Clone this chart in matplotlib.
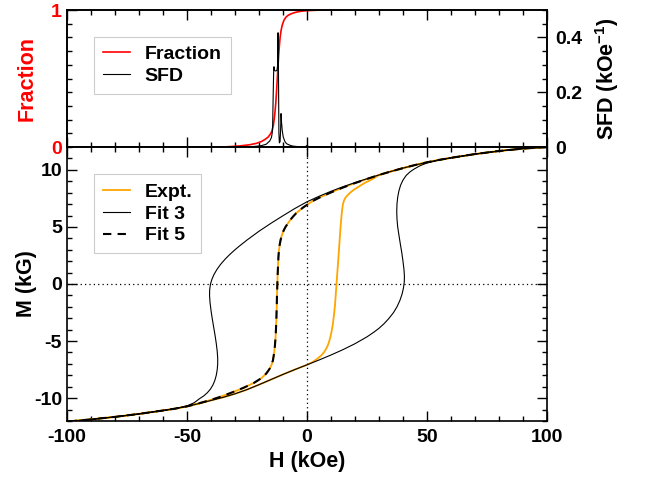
import matplotlib
matplotlib.use("Agg")
import matplotlib.pyplot as plt
from matplotlib.ticker import MultipleLocator, FixedLocator

plt.rcParams['font.family'] = ['Liberation Sans', 'DejaVu Sans']
plt.rcParams['font.weight'] = 'bold'
plt.rcParams['axes.unicode_minus'] = False
plt.rcParams['mathtext.fontset'] = 'custom'
plt.rcParams['mathtext.rm'] = 'Liberation Sans:bold'
plt.rcParams['mathtext.bf'] = 'Liberation Sans:bold'
plt.rcParams['mathtext.default'] = 'bf'

# ---------------- data ----------------
# Top panel: switching fraction and switching field distribution
frac_H = [-35.5, -32, -28, -24, -21, -19, -17.5, -16.2, -15.2, -14.5, -14.0, -13.6,
          -13.3, -13.0, -12.7, -12.4, -12.1, -11.8, -11.5, -11.2, -10.8, -10.3,
          -9.6, -8.8, -7.8, -6.5, -5, -3.5, -2, 0, 2, 5, 9, 13.75]
frac_val = [0.0, 0.003, 0.008, 0.016, 0.027, 0.04, 0.055, 0.072, 0.095, 0.12, 0.16,
            0.21, 0.26, 0.32, 0.4, 0.49, 0.58, 0.67, 0.74, 0.8, 0.85, 0.89,
            0.925, 0.947, 0.962, 0.973, 0.982, 0.988, 0.992, 0.995, 0.997, 0.999,
            1.0, 1.0]

sfd_H = [-100, -30, -22, -19, -17, -15.5, -14.8, -14.5, -14.3, -14.1, -13.9, -13.75,
         -13.6, -13.3, -12.9, -12.5, -12.2, -12.1, -12.0, -11.9, -11.7, -11.5, -11.2,
         -11.0, -10.8, -10.6, -10.3, -9.9, -9.2, -8.5, -7.0, -5.7, -3, -1, -0.3, 0,
         0.3, 1, 3, 100]
sfd_val = [0, 0, 0.002, 0.005, 0.01, 0.022, 0.035, 0.05, 0.08, 0.18, 0.27, 0.293,
           0.28, 0.278, 0.278, 0.28, 0.3, 0.417, 0.417, 0.3, 0.05, 0.015, 0.02,
           0.06, 0.122, 0.09, 0.06, 0.037, 0.02, 0.012, 0.006, 0.003, 0.001, 0.001,
           0.003, 0.006, 0.003, 0.001, 0, 0]

# Bottom panel: hysteresis loops (descending branch then ascending branch)
expt_H = [100, 90, 80, 70, 60, 55, 50, 45, 40, 35, 30, 25, 20, 15, 10, 5, 2.5, 0.5,
          -1.5, -3, -4.5, -5.7, -7, -8, -9, -9.8, -10.5, -11, -11.4, -11.7, -11.9,
          -12.05, -12.2, -12.35, -12.5, -12.6, -12.75, -12.9, -13.1, -13.4, -13.8,
          -14.2, -14.8, -15.5, -16.3, -17, -18, -19, -20.5, -22, -24, -26, -28,
          -30, -32.5, -35, -37.5, -40, -45, -50, -55, -60, -70, -80, -90, -100,
          -90, -80, -70, -60, -55, -50, -45, -40, -35, -30, -25, -20, -15, -10, -5,
          0, 2, 4, 6, 7.2, 8.2, 9, 9.7, 10.3, 10.8, 11.3, 11.7, 12.1, 12.5, 13,
          13.4, 13.75, 14.1, 14.4, 14.7, 15.0, 15.4, 16, 16.8, 18, 19.5, 21,
          22.5, 24, 26, 28, 30, 35, 40, 45, 50, 55, 60, 70, 80, 90, 100]
expt_M = [12.0, 11.86, 11.65, 11.38, 11.05, 10.87, 10.66, 10.42, 10.15, 9.86, 9.55,
          9.2, 8.84, 8.45, 8.02, 7.55, 7.28, 7.0, 6.72, 6.47, 6.2, 5.93, 5.6, 5.3,
          4.98, 4.65, 4.25, 3.85, 3.4, 2.9, 2.35, 1.7, 0.9, 0.0, -1.0, -2.0, -3.0,
          -3.9, -4.7, -5.5, -6.2, -6.7, -7.1, -7.4, -7.65, -7.85, -8.05, -8.25,
          -8.45, -8.65, -8.85, -9.05, -9.23, -9.4, -9.6, -9.8, -9.98, -10.15,
          -10.45, -10.72, -10.92, -11.08, -11.38, -11.64, -11.86, -12.05,
          -11.86, -11.64, -11.38, -11.08, -10.92, -10.72, -10.47, -10.2, -9.93,
          -9.62, -9.25, -8.82, -8.37, -7.92, -7.49, -7.08, -6.88, -6.6, -6.25,
          -5.95, -5.6, -5.2, -4.7, -4.1, -3.5, -2.6, -1.8, -0.6, 0.6, 2.0, 3.2,
          4.3, 5.3, 6.0, 6.6, 7.0, 7.3, 7.55, 7.75, 8.0, 8.25, 8.45, 8.65, 8.85,
          9.05, 9.28, 9.55, 9.86, 10.15, 10.42, 10.66, 10.87, 11.05, 11.38,
          11.65, 11.86, 12.0]

fit3_H = [100, 90, 80, 70, 60, 55, 50, 45, 40, 35, 30, 25, 20, 15, 10, 5, 0, -5, -10,
          -15, -20, -25, -28, -30, -32, -34, -36, -37.5, -38.7, -39.6, -40.2,
          -40.55, -40.6, -40.4, -40.0, -39.5, -38.9, -38.3, -37.8, -37.4, -37.2,
          -37.2, -37.4, -37.8, -38.4, -39.2, -40.2, -41.5, -43, -44.8, -47, -50,
          -55, -60, -70, -80, -90, -100,
          -90, -80, -70, -60, -55, -50, -45, -40, -35, -30, -25, -20, -15, -10, -5,
          0, 5, 10, 15, 20, 25, 28, 30, 32, 34, 36, 37.5, 38.7, 39.6, 40.2, 40.55,
          40.6, 40.4, 40.0, 39.5, 38.9, 38.3, 37.8, 37.5, 37.4, 37.5, 37.8, 38.3,
          39.0, 40.0, 41.3, 42.8, 44.5, 47, 50, 55, 60, 70, 80, 90, 100]
fit3_M = [12.0, 11.86, 11.65, 11.38, 11.05, 10.87, 10.66, 10.42, 10.15, 9.86, 9.55,
          9.22, 8.88, 8.52, 8.12, 7.68, 7.2, 6.62, 5.98, 5.32, 4.62, 3.85, 3.35,
          3.0, 2.62, 2.2, 1.72, 1.28, 0.85, 0.42, 0.0, -0.5, -1.0, -1.6, -2.3,
          -3.0, -3.75, -4.5, -5.2, -5.9, -6.5, -7.0, -7.5, -8.0, -8.45, -8.85,
          -9.2, -9.52, -9.8, -10.05, -10.4, -10.68, -10.92, -11.08, -11.38, -11.64,
          -11.86, -12.05,
          -11.86, -11.64, -11.38, -11.08, -10.92, -10.72, -10.47, -10.2, -9.93,
          -9.62, -9.25, -8.82, -8.37, -7.92, -7.49, -7.08, -6.66, -6.22, -5.75,
          -5.23, -4.63, -4.2, -3.88, -3.5, -3.05, -2.52, -2.0, -1.45, -0.9, -0.35,
          0.2, 0.7, 1.3, 2.0, 2.75, 3.5, 4.3, 5.0, 5.7, 6.35, 7.0, 7.6, 8.15, 8.65,
          9.1, 9.5, 9.8, 10.05, 10.35, 10.6, 10.85, 11.05, 11.38, 11.65, 11.86, 12.0]

fit5_H = [100, 90, 80, 70, 60, 55, 50, 45, 40, 35, 30, 25, 20, 15, 10, 5, 2.5, 0.5,
          -1.5, -3, -4.5, -5.7, -7, -8, -9, -9.8, -10.5, -11, -11.4, -11.7, -11.9,
          -12.05, -12.2, -12.35, -12.5, -12.6, -12.75, -12.9, -13.1, -13.4, -13.8,
          -14.2, -14.8, -15.5, -16.3, -17, -18, -19, -20.5, -22, -24, -26, -28,
          -30, -32.5, -35, -37.5, -40, -45, -50, -55, -60, -70, -80, -90, -100]
fit5_M = [12.0, 11.86, 11.65, 11.38, 11.05, 10.87, 10.66, 10.42, 10.15, 9.86, 9.55,
          9.2, 8.84, 8.45, 8.02, 7.55, 7.28, 7.0, 6.72, 6.47, 6.2, 5.93, 5.6, 5.3,
          4.98, 4.65, 4.25, 3.85, 3.4, 2.9, 2.35, 1.7, 0.9, 0.0, -1.0, -2.0, -3.0,
          -3.9, -4.7, -5.5, -6.2, -6.7, -7.1, -7.4, -7.65, -7.85, -8.05, -8.25,
          -8.45, -8.65, -8.85, -9.05, -9.23, -9.4, -9.6, -9.8, -9.98, -10.15,
          -10.45, -10.72, -10.92, -11.08, -11.38, -11.64, -11.86, -12.05]

x_ticks = [-100, -50, 0, 50, 100]
x_ticklabels = ['-100', '-50', '0', '50', '100']
m_ticks = [-10, -5, 0, 5, 10]
m_ticklabels = ['-10', '-5', '0', '5', '10']
frac_ticks = [0, 1]
frac_ticklabels = ['0', '1']
sfd_ticks = [0, 0.2, 0.4]
sfd_ticklabels = ['0', '0.2', '0.4']

# ---------------- figure ----------------
fig = plt.figure(figsize=(6.49, 4.79), dpi=100)
ax_top = fig.add_axes([0.1032, 0.6931, 0.7396, 0.2860])
ax_bot = fig.add_axes([0.1032, 0.1211, 0.7396, 0.5720])
ax_sfd = ax_top.twinx()

TICK_FS = 14
LAB_FS = 15.5
LEG_FS = 14
SPINE_LW = 1.2

for ax in (ax_top, ax_bot, ax_sfd):
    for s in ax.spines.values():
        s.set_linewidth(SPINE_LW)

# top panel
l_frac, = ax_top.plot(frac_H, frac_val, color='#ff0000', lw=1.2, label='Fraction')
l_sfd, = ax_sfd.plot(sfd_H, sfd_val, color='black', lw=0.8, label='SFD')
ax_top.set_xlim(-100, 100)
ax_top.set_ylim(0, 1)
ax_sfd.set_ylim(0, 0.5)
ax_top.set_xticks(x_ticks)
ax_top.xaxis.set_minor_locator(MultipleLocator(10))
ax_top.set_yticks(frac_ticks)
ax_top.set_yticklabels(frac_ticklabels)
ax_top.yaxis.set_minor_locator(FixedLocator([0.1, 0.2, 0.3, 0.4, 0.5, 0.6, 0.7, 0.8, 0.9]))
ax_top.tick_params(axis='x', which='both', direction='in', top=True, bottom=True,
                   labelbottom=False, width=1.0)
ax_top.tick_params(axis='x', which='major', length=7)
ax_top.tick_params(axis='x', which='minor', length=3.5)
ax_top.tick_params(axis='y', which='both', direction='in', left=True, right=False,
                   labelcolor='#ff0000', labelsize=TICK_FS, pad=3.5, width=1.0)
ax_top.tick_params(axis='y', which='major', length=7)
ax_top.tick_params(axis='y', which='minor', length=3.5)
ax_top.set_ylabel('Fraction', color='#ff0000', fontsize=LAB_FS, fontweight='bold')

ax_sfd.set_yticks(sfd_ticks)
ax_sfd.set_yticklabels(sfd_ticklabels)
ax_sfd.yaxis.set_minor_locator(MultipleLocator(0.05))
ax_sfd.tick_params(axis='y', which='both', direction='in', labelsize=TICK_FS, pad=6,
                   width=1.0)
ax_sfd.tick_params(axis='y', which='major', length=7)
ax_sfd.tick_params(axis='y', which='minor', length=3.5)
ax_sfd.set_ylabel('SFD (kOe$^{-1}$)', fontsize=LAB_FS, fontweight='bold')

leg_kw = dict(loc='upper left', borderaxespad=0, fontsize=LEG_FS, fancybox=False,
              edgecolor='#cccccc', framealpha=1, handlelength=1.4,
              handletextpad=0.75, labelspacing=0.22, borderpad=0.45)
leg1 = ax_top.legend([l_frac, l_sfd], ['Fraction', 'SFD'],
                     bbox_to_anchor=(0.0569, 0.805), **leg_kw)
leg1.get_frame().set_linewidth(0.8)

# bottom panel
ax_bot.axhline(0, color='black', lw=0.9, ls=(0, (1, 2.5)), zorder=1)
ax_bot.axvline(0, color='black', lw=0.9, ls=(0, (1, 2.5)), zorder=1)
l_expt, = ax_bot.plot(expt_H, expt_M, color='#ffa500', lw=1.3, label='Expt.', zorder=2)
l_fit3, = ax_bot.plot(fit3_H, fit3_M, color='black', lw=0.8, label='Fit 3', zorder=3)
l_fit5, = ax_bot.plot(fit5_H, fit5_M, color='black', lw=1.5, ls=(0, (4, 3)),
                      label='Fit 5', zorder=4)
ax_bot.set_xlim(-100, 100)
ax_bot.set_ylim(-12, 12)
ax_bot.set_xticks(x_ticks)
ax_bot.set_xticklabels(x_ticklabels)
ax_bot.set_yticks(m_ticks)
ax_bot.set_yticklabels(m_ticklabels)
ax_bot.xaxis.set_minor_locator(MultipleLocator(10))
ax_bot.yaxis.set_minor_locator(MultipleLocator(1))
ax_bot.tick_params(axis='both', which='both', direction='in', top=True, right=True,
                   labelsize=TICK_FS, width=1.0)
ax_bot.tick_params(axis='x', which='both', pad=6)
ax_bot.tick_params(axis='y', which='both', pad=3.5)
ax_bot.tick_params(which='major', length=7)
ax_bot.tick_params(which='minor', length=3.5)
ax_bot.set_xlabel('H (kOe)', fontsize=LAB_FS, fontweight='bold')
ax_bot.set_ylabel('M (kG)', fontsize=LAB_FS, fontweight='bold')

leg2 = ax_bot.legend([l_expt, l_fit3, l_fit5], ['Expt.', 'Fit 3', 'Fit 5'],
                     bbox_to_anchor=(0.0569, 0.9004), **leg_kw)
leg2.get_frame().set_linewidth(0.8)

# label positions
ax_top.yaxis.set_label_coords(-0.062, 0.5)
ax_bot.yaxis.set_label_coords(-0.062, 0.5)
ax_sfd.yaxis.set_label_coords(1.097, 0.5)
ax_bot.xaxis.set_label_coords(0.5, -0.11)

fig.savefig('out.png', dpi=100)
